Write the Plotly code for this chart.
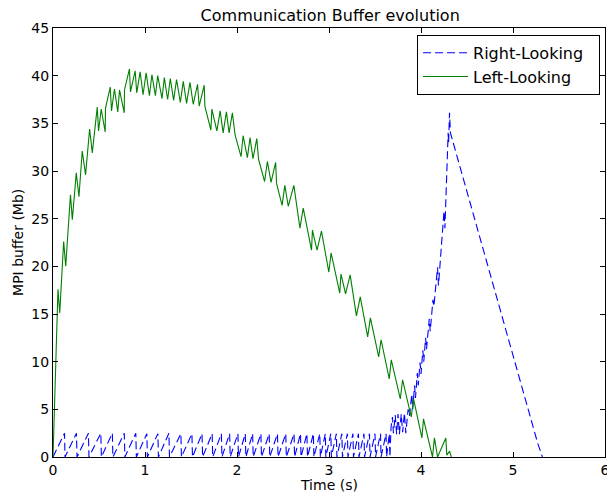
import plotly.graph_objects as go

# Left-Looking (green, solid)
left_t = [0.0, 0.054, 0.073, 0.116, 0.138, 0.19, 0.21, 0.253, 0.282, 0.318, 0.354, 0.398, 0.427,
          0.481, 0.495, 0.524, 0.567, 0.571, 0.622, 0.636, 0.668, 0.704, 0.723, 0.774, 0.777,
          0.831, 0.842, 0.893, 0.910, 0.947, 0.979, 1.012, 1.048, 1.075, 1.113, 1.138, 1.185,
          1.21, 1.246, 1.275, 1.311, 1.343, 1.384, 1.416, 1.452, 1.489, 1.524, 1.571, 1.589,
          1.644, 1.651, 1.716, 1.727, 1.781, 1.817, 1.849, 1.885, 1.914, 1.95, 1.979, 2.044,
          2.066, 2.113, 2.142, 2.174, 2.215, 2.235, 2.30, 2.33, 2.37, 2.42, 2.43, 2.49, 2.52,
          2.557, 2.618, 2.684, 2.72, 2.81, 2.82, 2.87, 2.918, 2.998, 3.023, 3.117, 3.13, 3.18,
          3.23, 3.298, 3.34, 3.42, 3.45, 3.54, 3.566, 3.655, 3.677, 3.775, 3.80, 3.894, 3.919,
          4.01, 4.027, 4.125, 4.146, 4.18, 4.27, 4.28, 4.31, 4.33]
left_mb = [0.0, 17.6, 15.1, 22.6, 20.0, 27.5, 24.9, 29.8, 27.3, 32.1, 29.6, 34.4, 31.9,
           36.7, 34.2, 36.5, 34.1, 36.6, 38.8, 36.3, 38.6, 36.2, 38.5, 36.1, 38.5,
           40.7, 38.3, 40.5, 38.2, 40.4, 38.0, 40.3, 37.9, 40.1, 37.9, 40.0, 37.6,
           39.8, 37.5, 39.7, 37.4, 39.6, 37.2, 39.4, 37.1, 39.3, 37.0, 39.1, 36.8,
           39.0, 36.8, 34.3, 36.5, 34.2, 36.3, 34.0, 36.2, 34.0, 36.1, 33.8, 31.5,
           33.7, 31.4, 33.5, 31.3, 33.4, 31.2, 28.9, 31.0, 28.8, 30.9, 28.7, 26.4, 28.5,
           26.3, 28.5, 24.0, 26.1, 21.7, 23.8, 21.7, 23.7, 19.4, 21.4, 17.2, 19.2, 17.1,
           19.1, 14.8, 16.8, 12.6, 14.6, 10.5, 12.3, 8.2, 10.2, 6.1, 8.1, 4.2, 6.1,
           2.0, 4.0, 0.0, 2.0, 0.0, 2.0, 0.2, 0.6, 0.0]

# Right-Looking (blue, dashed)
right_t = [0.0, 0.125, 0.131, 0.255, 0.261, 0.385, 0.391, 0.52, 0.526, 0.645, 0.651,
           0.775, 0.781, 0.90, 0.906, 1.02, 1.026, 1.14, 1.146, 1.26, 1.266, 1.39, 1.396,
           1.51, 1.516, 1.62, 1.626, 1.73, 1.736, 1.83, 1.836, 1.92, 1.926, 2.01, 2.016,
           2.09, 2.096, 2.17, 2.176, 2.26, 2.266, 2.35, 2.356, 2.44, 2.446, 2.53, 2.536,
           2.62, 2.626, 2.69, 2.696, 2.76, 2.766, 2.83, 2.836, 2.90, 2.906, 2.96, 2.966,
           3.02, 3.026, 3.08, 3.086, 3.14, 3.146, 3.20, 3.206, 3.26, 3.266, 3.32, 3.326,
           3.38, 3.386, 3.44, 3.446, 3.50, 3.506, 3.56, 3.566, 3.62, 3.626, 3.655, 3.662,
           3.675, 3.69, 3.70, 3.72, 3.735, 3.75, 3.765, 3.785, 3.80, 3.82, 3.835, 3.86,
           3.875, 3.90, 3.91, 3.93, 3.94, 3.96, 3.97, 3.99, 4.00, 4.02, 4.03, 4.05, 4.06,
           4.09, 4.10, 4.13, 4.14, 4.18, 4.19, 4.25, 4.26, 4.295, 4.30, 4.31, 4.32,
           5.27, 5.32]
right_mb = [0.0, 2.5, 0.0, 2.5, 0.0, 2.5, 0.0, 2.5, 0.0, 2.5, 0.0,
            2.5, 0.0, 2.5, 0.0, 2.45, 0.0, 2.45, 0.0, 2.5, 0.0, 2.45, 0.0,
            2.45, 0.0, 2.45, 0.0, 2.45, 0.0, 2.45, 0.0, 2.45, 0.0, 2.45, 0.0,
            2.45, 0.0, 2.45, 0.0, 2.45, 0.0, 2.45, 0.0, 2.45, 0.0, 2.45, 0.0,
            2.45, 0.0, 2.45, 0.0, 2.45, 0.0, 2.45, 0.0, 2.45, 0.0, 2.45, 0.0,
            2.45, 0.0, 2.45, 0.0, 2.45, 0.0, 2.45, 0.0, 2.45, 0.0, 2.45, 0.0,
            2.45, 0.0, 2.45, 0.0, 2.45, 0.0, 2.45, 0.0, 2.45, 0.0, 2.45, 0.0,
            3.2, 4.2, 2.5, 4.4, 2.4, 4.5, 2.4, 4.5, 2.6, 4.6, 2.5, 5.0,
            4.3, 6.6, 5.0, 7.5, 6.2, 8.8, 7.5, 9.9, 8.7, 11.2, 10.0, 12.5, 11.3,
            14.5, 13.2, 16.5, 15.8, 19.9, 18.0, 25.8, 24.0, 34.0, 33.0, 36.1, 34.0,
            1.4, 0.0]

x_ticks = [0, 1, 2, 3, 4, 5, 6]
y_ticks = [0, 5, 10, 15, 20, 25, 30, 35, 40, 45]

FONT = "DejaVu Sans, Liberation Sans, sans-serif"

fig = go.Figure()
fig.add_trace(go.Scatter(x=right_t, y=right_mb, mode="lines", name="Right-Looking&nbsp;&nbsp;",
                         line=dict(color="#0000ff", width=1.1, dash="8px,4px")))
fig.add_trace(go.Scatter(x=left_t, y=left_mb, mode="lines", name="Left-Looking",
                         line=dict(color="#008000", width=1.1)))

axis_common = dict(showgrid=False, zeroline=False, showline=True, linecolor="black",
                   linewidth=1, mirror="ticks", ticks="inside", ticklen=5,
                   tickcolor="black", tickwidth=1, automargin=False,
                   ticklabeloverflow="allow",
                   tickfont=dict(family=FONT, size=14, color="black"))

fig.update_layout(
    width=607, height=492,
    margin=dict(l=53, r=2, t=28, b=35, autoexpand=False),
    paper_bgcolor="white", plot_bgcolor="white",
    font=dict(family=FONT, color="black"),
    title=dict(text="Communication Buffer evolution", x=0.544, xanchor="center",
               y=0.9695, yanchor="middle", font=dict(family=FONT, size=16, color="black")),
    xaxis=dict(range=[0, 6], tickvals=x_ticks, ticktext=[str(v) for v in x_ticks],
               **axis_common),
    yaxis=dict(range=[0, 45], tickvals=y_ticks, ticktext=[str(v) for v in y_ticks],
               **axis_common),
    legend=dict(x=0.991, y=0.984, xanchor="right", yanchor="top",
                bgcolor="white", bordercolor="black", borderwidth=1,
                font=dict(family=FONT, size=16, color="black"),
                tracegroupgap=2, itemwidth=45),
    showlegend=True,
    annotations=[
        dict(text="Time (s)", xref="paper", yref="paper", x=0.5, y=-0.065,
             xanchor="center", yanchor="middle", showarrow=False,
             font=dict(family=FONT, size=14, color="black")),
        dict(text="MPI buffer (Mb)", xref="paper", yref="paper", x=-0.0634, y=0.499,
             xanchor="center", yanchor="middle", showarrow=False, textangle=-90,
             font=dict(family=FONT, size=14, color="black")),
    ],
)

fig.write_html("out.html", config={"displayModeBar": False},
               post_script="document.body.style.margin='0';document.body.style.overflow='hidden';")
